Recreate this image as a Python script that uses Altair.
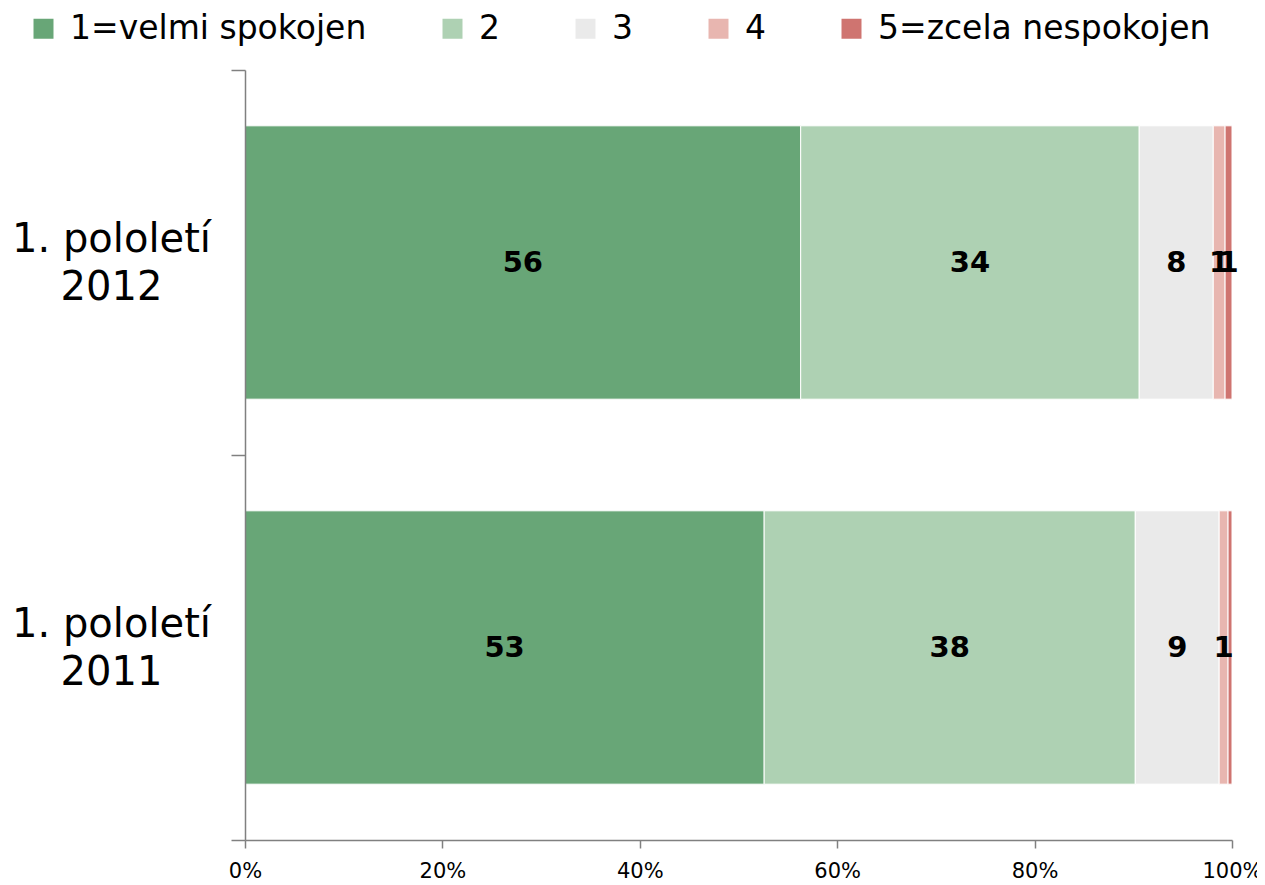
import altair as alt
import pandas as pd

categories = ["1. pololetí|2012", "1. pololetí|2011"]
levels = ["1=velmi spokojen", "2", "3", "4", "5=zcela nespokojen"]
colors = ["#68a677", "#aed1b3", "#eaeaea", "#e8b6b0", "#cf7470"]
values_2012 = [56.3, 34.3, 7.5, 1.2, 0.7]
values_2011 = [52.6, 37.6, 8.5, 0.9, 0.4]

rows = []
for cat, vals in zip(categories, [values_2012, values_2011]):
    for i, (lev, v) in enumerate(zip(levels, vals)):
        rows.append({"cat": cat, "level": lev, "order": i, "value": v})
df = pd.DataFrame(rows)

FONT = "DejaVu Sans"

y_axis = alt.Axis(
    tickBand="extent",
    labelExpr="split(datum.label, '|')",
    labelFontSize=40,
    labelFont=FONT,
    labelColor="#000000",
    labelAlign="center",
    labelBaseline="middle",
    labelLineHeight=48,
    labelPadding=120,
    labelOffset=-23,
    labelLimit=0,
    tickSize=14,
    domainColor="#808080",
    tickColor="#808080",
    domainWidth=1.5,
    tickWidth=1.5,
    grid=False,
    zindex=1,
)

x_axis = alt.Axis(
    values=[0, 20, 40, 60, 80, 100],
    labelExpr="datum.value + '%'",
    labelFontSize=21,
    labelFont=FONT,
    labelColor="#000000",
    labelPadding=12,
    labelFlush=False,
    labelOverlap=False,
    tickSize=8,
    domainColor="#808080",
    tickColor="#808080",
    domainWidth=1.5,
    tickWidth=1.5,
    grid=False,
    zindex=1,
)

x_scale = alt.Scale(domain=[0, 100], nice=False)
y_scale = alt.Scale(paddingInner=0, paddingOuter=0)

bars = alt.Chart(df).mark_bar(height={"band": 0.71}, stroke="white", strokeWidth=1).encode(
    x=alt.X("value:Q", stack="zero", title=None, scale=x_scale, axis=x_axis),
    y=alt.Y("cat:N", sort=categories, title=None, scale=y_scale, axis=y_axis),
    color=alt.Color(
        "level:N",
        sort=levels,
        scale=alt.Scale(domain=levels, range=colors),
        legend=alt.Legend(
            title=None,
            orient="none",
            direction="horizontal",
            legendX=-218,
            legendY=-58,
            symbolType="square",
            symbolSize=400,
            symbolStrokeWidth=0,
            symbolOpacity=1,
            labelFontSize=33,
            labelFont=FONT,
            labelColor="#000000",
            labelOffset=10,
            labelLimit=0,
            columnPadding=69,
        ),
    ),
    order=alt.Order("order:Q"),
)

labels = (
    alt.Chart(df)
    .transform_window(
        cum="sum(value)", groupby=["cat"], sort=[{"field": "order"}], frame=[None, 0]
    )
    .transform_calculate(mid="datum.cum - datum.value / 2", lab="round(datum.value)")
    .transform_filter("datum.lab > 0")
    .mark_text(font=FONT, fontSize=29, fontWeight="bold", color="#000000")
    .encode(
        x=alt.X("mid:Q", title=None, scale=x_scale, axis=x_axis),
        y=alt.Y("cat:N", sort=categories, title=None, scale=y_scale, axis=y_axis),
        text=alt.Text("lab:Q", format="d"),
    )
)

chart = (
    alt.layer(bars, labels)
    .properties(
        width=987,
        height=770,
        autosize=alt.AutoSizeParams(type="none"),
        padding={"left": 237, "top": 62, "right": 25, "bottom": 44},
        view=alt.ViewBackground(stroke=None, strokeWidth=0),
    )
    .configure_view(strokeWidth=0, stroke=None)
    .configure(background="white")
)

chart.save("out.html", embed_options={"renderer": "svg", "actions": False})
